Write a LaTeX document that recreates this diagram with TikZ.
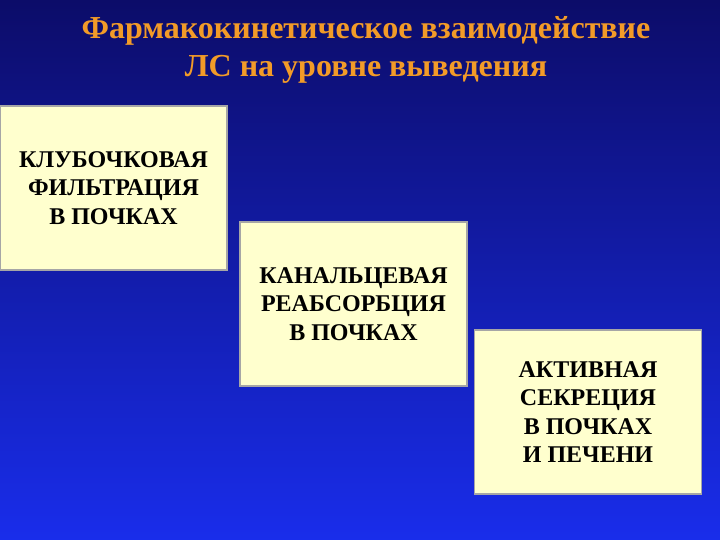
\documentclass[tikz,border=0pt]{standalone}
\usepackage{fontspec}
\setmainfont{Liberation Serif}
\definecolor{navytop}{RGB}{12,12,105}
\definecolor{bluebottom}{RGB}{25,45,235}
\definecolor{boxfill}{RGB}{255,255,206}
\definecolor{titleorange}{RGB}{242,155,40}
\tikzset{
  stagebox/.style={shape=rectangle,draw=gray!70,fill=boxfill,line width=1.2pt,
    minimum width=227pt,minimum height=164pt,align=center,
    font=\fontsize{24}{28.5}\selectfont\bfseries,text=black,inner sep=0pt},
  heading/.style={align=center,text=titleorange,
    font=\fontsize{32}{38}\selectfont\bfseries}
}
\begin{document}
\begin{tikzpicture}[x=1pt,y=-1pt]
\shade[top color=navytop,bottom color=bluebottom] (0,0) rectangle (720,540);
\useasboundingbox (0,0) rectangle (720,540);
\node[heading] (title) at (366,50) {Фармакокинетическое взаимодействие\\ЛС на уровне выведения};
\node[stagebox] (filtr) at (113.5,188) {КЛУБОЧКОВАЯ\\ФИЛЬТРАЦИЯ\\В ПОЧКАХ};
\node[stagebox] (reabs) at (353.5,304) {КАНАЛЬЦЕВАЯ\\РЕАБСОРБЦИЯ\\В ПОЧКАХ};
\node[stagebox] (secr) at (588,412) {АКТИВНАЯ\\СЕКРЕЦИЯ\\В ПОЧКАХ\\И ПЕЧЕНИ};
\end{tikzpicture}
\end{document}
